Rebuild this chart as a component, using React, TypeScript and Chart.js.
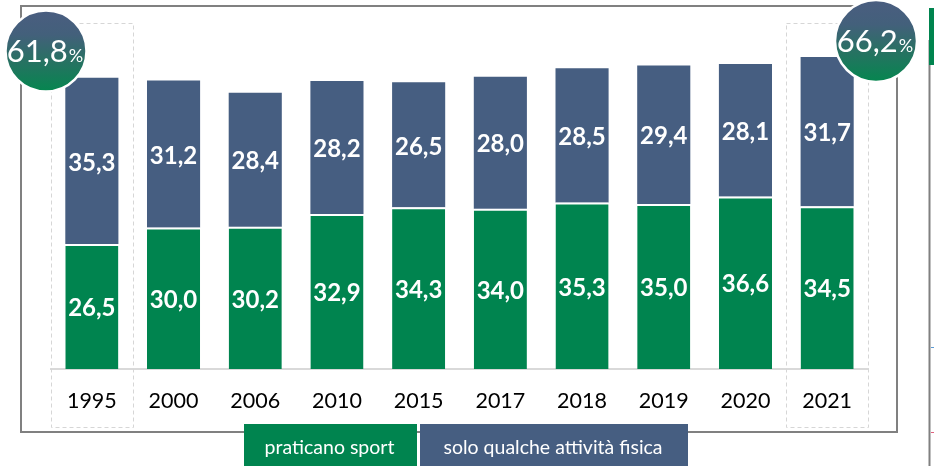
import React, { useEffect, useRef } from "react";
import { Chart, registerables } from "chart.js";

Chart.register(...registerables);

const categories = ["1995", "2000", "2006", "2010", "2015", "2017", "2018", "2019", "2020", "2021"];
const sportValues = [26.5, 30.0, 30.2, 32.9, 34.3, 34.0, 35.3, 35.0, 36.6, 34.5];
const activityValues = [35.3, 31.2, 28.4, 28.2, 26.5, 28.0, 28.5, 29.4, 28.1, 31.7];
const seriesLabels = ["praticano sport", "solo qualche attività fisica"];
const highlightedIndexes = [0, 9];

const GREEN = "#00844f";
const BLUE = "#465e81";
const FONT = "Lato";

const fmt = (v: number) => v.toFixed(1).replace(".", ",");

const decorPlugin = {
  id: "decor",
  beforeDraw(chart: any) {
    const ctx = chart.ctx;
    ctx.save();
    ctx.fillStyle = "#ffffff";
    ctx.fillRect(0, 0, chart.width, chart.height);
    // outer frame
    ctx.strokeStyle = "#808080";
    ctx.lineWidth = 2;
    ctx.strokeRect(21, 6, 876, 426);
    // right side decorations
    ctx.beginPath();
    ctx.moveTo(929.5, 40);
    ctx.lineTo(929.5, 466);
    ctx.stroke();
    ctx.fillStyle = GREEN;
    ctx.fillRect(929, 8, 5, 57);
    ctx.strokeStyle = "#5b9bd5";
    ctx.lineWidth = 1;
    ctx.beginPath();
    ctx.moveTo(931, 347.5);
    ctx.lineTo(934, 347.5);
    ctx.stroke();
    ctx.strokeStyle = "#e0607e";
    ctx.beginPath();
    ctx.moveTo(931, 432.5);
    ctx.lineTo(934, 432.5);
    ctx.stroke();
    ctx.restore();
  },
  beforeDatasetsDraw(chart: any) {
    const ctx = chart.ctx;
    const xs = chart.scales.x;
    const half = (xs.getPixelForValue(1) - xs.getPixelForValue(0)) / 2;
    ctx.save();
    ctx.strokeStyle = "#d6d6d6";
    ctx.lineWidth = 1;
    ctx.setLineDash([4, 3]);
    highlightedIndexes.forEach((i) => {
      const cx = xs.getPixelForValue(i);
      ctx.strokeRect(Math.round(cx - half) + 0.5, 23.5, Math.round(half * 2), 404);
    });
    ctx.restore();
  },
  afterDatasetsDraw(chart: any) {
    const ctx = chart.ctx;
    ctx.save();
    ctx.fillStyle = "#ffffff";
    ctx.font = `bold 24px ${FONT}`;
    ctx.textAlign = "center";
    ctx.textBaseline = "middle";
    chart.data.datasets.forEach((ds: any, di: number) => {
      const meta = chart.getDatasetMeta(di);
      meta.data.forEach((el: any, i: number) => {
        const y = (el.y + el.base) / 2 + 2;
        ctx.fillText(fmt(ds.data[i]), el.x, y);
      });
    });
    ctx.restore();
  },
  afterDraw(chart: any) {
    const ctx = chart.ctx;
    ctx.save();
    // legend boxes
    const boxes = [
      { x: 244, w: 173, color: GREEN, text: chart.data.datasets[0].label },
      { x: 420, w: 268, color: BLUE, text: chart.data.datasets[1].label },
    ];
    boxes.forEach((b) => {
      ctx.fillStyle = b.color;
      ctx.fillRect(b.x, 424, b.w, 42);
      ctx.fillStyle = "#ffffff";
      ctx.font = `19.5px ${FONT}`;
      ctx.textAlign = "center";
      ctx.textBaseline = "alphabetic";
      ctx.fillText(b.text, b.x + b.w / 2 - 1, 454);
    });
    // total circles
    const ds0 = chart.data.datasets[0].data;
    const ds1 = chart.data.datasets[1].data;
    const circles = [
      { cx: 46, cy: 51, r: 40.5, idx: highlightedIndexes[0] },
      { cx: 876, cy: 41, r: 41, idx: highlightedIndexes[1] },
    ];
    circles.forEach((c) => {
      const g = ctx.createLinearGradient(0, c.cy - c.r, 0, c.cy + c.r);
      g.addColorStop(0, "#4a5d80");
      g.addColorStop(0.3, "#43607b");
      g.addColorStop(0.6, "#2a7064");
      g.addColorStop(1, "#05864f");
      ctx.beginPath();
      ctx.arc(c.cx, c.cy, c.r, 0, Math.PI * 2);
      ctx.fillStyle = g;
      ctx.fill();
      ctx.lineWidth = 2.5;
      ctx.strokeStyle = "#ffffff";
      ctx.stroke();
      const total = fmt(ds0[c.idx] + ds1[c.idx]);
      ctx.fillStyle = "#ffffff";
      ctx.textBaseline = "alphabetic";
      ctx.textAlign = "left";
      ctx.font = `31px ${FONT}`;
      const w1 = ctx.measureText(total).width;
      ctx.font = `18px ${FONT}`;
      const w2 = ctx.measureText("%").width;
      const start = c.cx - 1 - (w1 + w2 + 1) / 2;
      ctx.font = `31px ${FONT}`;
      ctx.fillText(total, start, c.cy + 11);
      ctx.font = `18px ${FONT}`;
      ctx.fillText("%", start + w1 + 1, c.cy + 11);
    });
    ctx.restore();
  },
};

export default function App() {
  const ref = useRef<HTMLCanvasElement | null>(null);
  useEffect(() => {
    if (!ref.current) return;
    const chart = new Chart(ref.current, {
      type: "bar",
      data: {
        labels: categories,
        datasets: [
          {
            label: seriesLabels[0],
            data: sportValues,
            backgroundColor: GREEN,
            borderColor: "#ffffff",
            borderWidth: { top: 2, left: 0, right: 0, bottom: 0 },
            borderSkipped: false,
            barPercentage: 0.65,
            categoryPercentage: 1,
          },
          {
            label: seriesLabels[1],
            data: activityValues,
            backgroundColor: BLUE,
            borderWidth: 0,
            barPercentage: 0.65,
            categoryPercentage: 1,
          },
        ],
      },
      options: {
        responsive: false,
        animation: false,
        layout: { padding: { left: 51, right: 66, top: 39, bottom: 0 } },
        plugins: { legend: { display: false }, tooltip: { enabled: false } },
        scales: {
          x: {
            stacked: true,
            grid: { display: false, drawTicks: false },
            border: { display: true, color: "#d9d9d9", width: 2 },
            ticks: { color: "#000000", font: { family: FONT, size: 21.5 }, padding: 19 },
            afterFit: (s: any) => {
              s.height = 97;
            },
          },
          y: { stacked: true, display: false, min: 0, max: 70 },
        },
      },
      plugins: [decorPlugin],
    } as any);
    return () => chart.destroy();
  }, []);
  return (
    <div style={{ position: "absolute", left: 0, top: 0, width: 934, height: 466 }}>
      <canvas ref={ref} width={934} height={466} style={{ display: "block" }} />
    </div>
  );
}
